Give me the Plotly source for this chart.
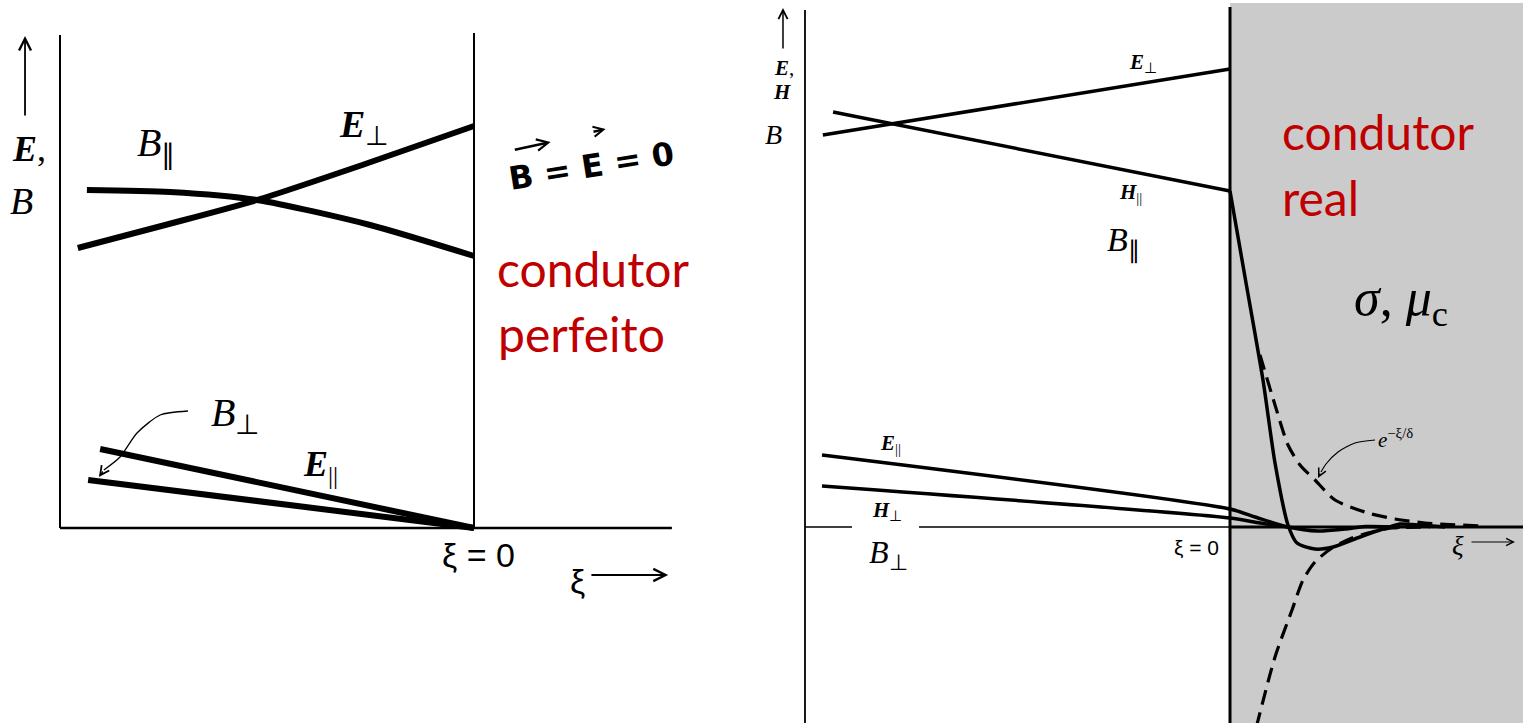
import plotly.graph_objects as go

# ---------------- left panel: perfect conductor (xi in units of the panel width, field in arbitrary units)
e_perp_L_x = [-0.957, -0.746, -0.524, -0.263, 0.0]
e_perp_L_y = [2.80, 3.03, 3.28, 3.64, 4.02]
b_par_L_x = [-0.935, -0.734, -0.524, -0.251, 0.0]
b_par_L_y = [3.38, 3.36, 3.28, 3.03, 2.72]
e_par_L_x = [-0.903, 0.0]
e_par_L_y = [0.79, 0.0]
b_perp_L_x = [-0.932, 0.0]
b_perp_L_y = [0.48, 0.0]
pointer_L_x = [-0.691, -0.758, -0.814, -0.855, -0.894]
pointer_L_y = [1.17, 1.13, 0.95, 0.71, 0.58]

# ---------------- right panel: real conductor
e_perp_R_x = [-0.958, 0.0]
e_perp_R_y = [3.92, 4.58]
h_par_R_x = [-0.934, 0.0]
h_par_R_y = [4.15, 3.36]
decay_x = [0.0, 0.0353, 0.0776, 0.1059, 0.1365, 0.1576, 0.20, 0.2424, 0.3059, 0.3529, 0.40, 0.4471, 0.5059]
decay_y = [3.36, 2.50, 1.47, 0.64, 0.02, -0.16, -0.22, -0.20, -0.10, -0.03, 0.03, 0.02, 0.0]
e_par_R_x = [-0.96, 0.0, 0.0588, 0.1365, 0.2071, 0.2706, 0.3176, 0.40]
e_par_R_y = [0.72, 0.18, 0.10, 0.0, -0.04, -0.02, 0.005, 0.0]
h_perp_R_x = [-0.96, 0.0, 0.0706, 0.1365]
h_perp_R_y = [0.41, 0.09, 0.04, 0.0]
env_up_x = [0.0706, 0.1059, 0.1365, 0.1647, 0.20, 0.2471, 0.3247, 0.3882, 0.4588, 0.5882]
env_up_y = [1.72, 1.22, 0.82, 0.62, 0.47, 0.27, 0.14, 0.08, 0.04, 0.01]
env_dn_x = [0.062, 0.1059, 0.1459, 0.1718, 0.20, 0.24, 0.2871, 0.3341, 0.3812, 0.4706]
env_dn_y = [-2.0, -1.30, -0.83, -0.53, -0.35, -0.21, -0.11, -0.05, -0.01, 0.0]
pointer_R_x = [0.3412, 0.2941, 0.2541, 0.2259, 0.2141]
pointer_R_y = [0.87, 0.84, 0.75, 0.63, 0.55]

RED = "#C00000"
SERIF = "Liberation Serif"
SANS = "Liberation Sans"
CAL = "Lato"

fig = go.Figure()


def curve(x, y, axes, width, dash=None, smooth=True):
    xa, ya = axes
    fig.add_trace(go.Scatter(
        x=x, y=y, xaxis=xa, yaxis=ya, mode="lines",
        line=dict(color="black", width=width, dash=dash,
                  shape="spline" if smooth else "linear", smoothing=0.7),
        hoverinfo="skip", showlegend=False))


L = ("x", "y")
R = ("x2", "y2")

# left panel curves
curve(e_perp_L_x, e_perp_L_y, L, 6)
curve(b_par_L_x, b_par_L_y, L, 6)
curve(e_par_L_x, e_par_L_y, L, 6, smooth=False)
curve(b_perp_L_x, b_perp_L_y, L, 6, smooth=False)
curve(pointer_L_x, pointer_L_y, L, 1.3)

# right panel curves
curve(e_perp_R_x, e_perp_R_y, R, 3.5, smooth=False)
curve(h_par_R_x, h_par_R_y, R, 3.5, smooth=False)
curve(decay_x, decay_y, R, 3.5)
curve(e_par_R_x, e_par_R_y, R, 3.5)
curve(h_perp_R_x, h_perp_R_y, R, 3.5)
curve(env_up_x, env_up_y, R, 3.2, dash="15px,8px")
curve(env_dn_x, env_dn_y, R, 3.2, dash="15px,8px")
curve(pointer_R_x, pointer_R_y, R, 1.2)

shapes = []


def seg(x0, y0, x1, y1, axes, width, layer="above"):
    shapes.append(dict(type="line", xref=axes[0], yref=axes[1], x0=x0, y0=y0, x1=x1, y1=y1,
                       line=dict(color="black", width=width), layer=layer))


# conductor region
shapes.append(dict(type="rect", xref="x2", yref="y2", x0=0, x1=0.75, y0=-2.1, y1=5.24,
                   fillcolor="#cbcbcb", line=dict(width=0), layer="below"))

# left frame
seg(-1.0, 0, -1.0, 4.93, L, 2)
seg(0, 0, 0, 4.95, L, 2)
seg(-1.0, 0, 0.478, 0, L, 2.5)
# right frame
seg(-1.0, -2.1, -1.0, 5.17, R, 1.8)
seg(-1.0, 0, -0.8894, 0, R, 1.5)
seg(-0.7318, 0, 0, 0, R, 1.5)
seg(0, 0, 0.75, 0, R, 3)
seg(0, -2.1, 0, 5.2, R, 3)

annotations = []


def label(text, x, y, axes, size, family=SERIF, color="black", xanchor="center", angle=0):
    annotations.append(dict(text=text, x=x, y=y, xref=axes[0], yref=axes[1], showarrow=False,
                            xanchor=xanchor, yanchor="middle", textangle=angle,
                            font=dict(size=size, family=family, color=color)))


def arrow(x_tail, y_tail, x_head, y_head, axes, width=1.5, head=5, size=1.2):
    annotations.append(dict(text="", x=x_head, y=y_head, ax=x_tail, ay=y_tail,
                            xref=axes[0], yref=axes[1], axref=axes[0], ayref=axes[1],
                            showarrow=True, arrowhead=head, arrowsize=size, arrowwidth=width,
                            arrowcolor="black", standoff=0, startstandoff=0))


# left panel text
arrow(-1.0845, 4.11, -1.0845, 4.92, L, width=1.8, head=5, size=1.3)
label("<b><i>E</i></b>,", -1.074, 3.79, L, 36)
label("<i>B</i>", -1.0918, 3.27, L, 38)
label("<i>B</i><sub>∥</sub>", -0.82, 3.83, L, 40, xanchor="left")
label("<b><i>E</i></b><sub>⊥</sub>", -0.332, 4.01, L, 38, xanchor="left")
label("<i>B</i><sub>⊥</sub>", -0.64, 1.13, L, 40, xanchor="left")
label("<b><i>E</i></b><sub>||</sub>", -0.417, 0.62, L, 36, xanchor="left")
arrow(-0.894, 0.58, -0.906, 0.51, L, width=1.3, head=5, size=1.4)
label("ξ = 0", 0.01, -0.27, L, 34, family=SANS)
label("ξ", 0.249, -0.53, L, 34, family=SANS)
arrow(0.280, -0.47, 0.469, -0.47, L, width=2, head=5, size=1.2)
label("<b>B = E = 0</b>", 0.285, 3.62, L, 32, family="DejaVu Sans", angle=-9)
arrow(0.095, 3.78, 0.185, 3.86, L, width=2.5, head=5, size=0.9)
arrow(0.285, 3.96, 0.318, 3.99, L, width=2.5, head=5, size=0.8)
label("condutor", 0.050, 2.60, L, 48, family=CAL, color=RED, xanchor="left")
label("perfeito", 0.054, 1.95, L, 48, family=CAL, color=RED, xanchor="left")

# right panel text
arrow(-1.0518, 4.77, -1.0518, 5.19, R, width=1.5, head=5, size=1.2)
label("<b><i>E</i></b>,", -1.050, 4.59, R, 21)
label("<b><i>H</i></b>", -1.0541, 4.35, R, 21)
label("<i>B</i>", -1.0753, 3.93, R, 28)
label("<b><i>E</i></b><sub>⊥</sub>", -0.243, 4.64, R, 21, xanchor="left")
label("<b><i>H</i></b><sub>||</sub>", -0.266, 3.34, R, 21, xanchor="left")
label("<i>B</i><sub>∥</sub>", -0.295, 2.85, R, 34, xanchor="left")
label("<b><i>E</i></b><sub>||</sub>", -0.829, 0.83, R, 21, xanchor="left")
label("<b><i>H</i></b><sub>⊥</sub>", -0.848, 0.16, R, 21, xanchor="left")
label("<i>B</i><sub>⊥</sub>", -0.853, -0.27, R, 32, xanchor="left")
label("ξ = 0", -0.08, -0.20, R, 21, family=SANS)
label("<i>ξ</i>", 0.5365, -0.19, R, 27)
arrow(0.5647, -0.15, 0.6706, -0.15, R, width=1.2, head=5, size=1.2)
label("<i>e</i><sup>−ξ/δ</sup>", 0.344, 0.89, R, 21, xanchor="left")
arrow(0.2141, 0.55, 0.2071, 0.49, R, width=1.2, head=5, size=1.3)
label("condutor", 0.117, 3.96, R, 48, family=CAL, color=RED, xanchor="left")
label("real", 0.117, 3.30, R, 48, family=CAL, color=RED, xanchor="left")
label("<i>σ</i>, <i>μ</i><sub>c</sub>", 0.287, 2.26, R, 52, xanchor="left")

split = 760 / 1523
ax_common = dict(visible=False, showgrid=False, zeroline=False, fixedrange=True)
fig.update_layout(
    width=1523, height=723,
    margin=dict(l=0, r=0, t=0, b=0),
    paper_bgcolor="white", plot_bgcolor="white",
    xaxis=dict(domain=[0, split], range=[-474 / 414, 286 / 414], anchor="y", **ax_common),
    yaxis=dict(domain=[0, 1], range=[-1.95, 5.28], anchor="x", **ax_common),
    xaxis2=dict(domain=[split, 1], range=[-470 / 425, 293 / 425], anchor="y2", **ax_common),
    yaxis2=dict(domain=[0, 1], range=[-1.96, 5.27], anchor="x2", **ax_common),
    shapes=shapes,
    annotations=annotations,
    showlegend=False,
)

fig.write_html("out.html")
